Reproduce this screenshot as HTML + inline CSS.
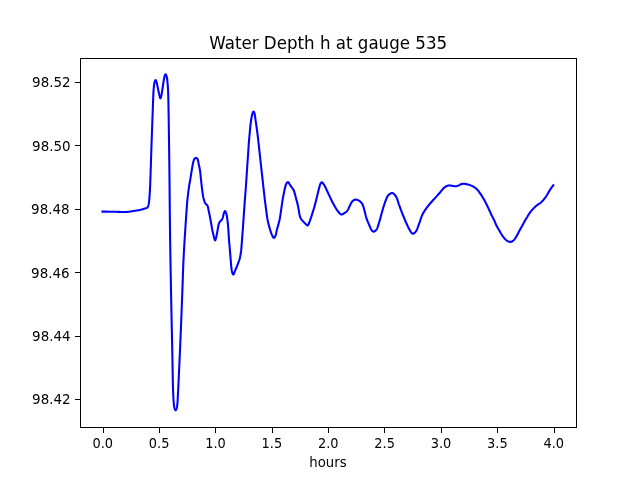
<!DOCTYPE html>
<html><head><meta charset="utf-8"><title>Water Depth h at gauge 535</title>
<style>
html,body{margin:0;padding:0;background:#fff;}
body{width:640px;height:480px;overflow:hidden;}
svg{display:block;will-change:transform;}
text{font-family:"DejaVu Sans","Liberation Sans",sans-serif;fill:#000;}
.tk{font-size:13.89px;}
.ti{font-size:17.5px;}
</style></head><body>
<svg width="640" height="480" viewBox="0 0 640 480">
<rect x="0" y="0" width="640" height="480" fill="#ffffff"/>
<path d="M102.5 211.6 L103.25 211.61 L103.99 211.62 L104.73 211.63 L105.46 211.64 L106.18 211.65 L106.9 211.66 L107.61 211.67 L108.31 211.68 L109.01 211.7 L109.7 211.71 L110.39 211.72 L111.06 211.73 L111.74 211.74 L112.4 211.75 L113.06 211.76 L113.71 211.78 L114.36 211.79 L115 211.8 L115.75 211.82 L116.5 211.83 L117.24 211.85 L117.98 211.87 L118.71 211.89 L119.44 211.91 L120.14 211.93 L120.84 211.95 L121.52 211.97 L122.17 211.98 L122.81 211.99 L123.42 212 L124 212 L124.72 211.99 L125.39 211.98 L126.03 211.95 L126.65 211.92 L127.26 211.88 L127.87 211.84 L128.5 211.8 L129.14 211.74 L129.76 211.66 L130.38 211.56 L131.01 211.45 L131.65 211.33 L132.31 211.22 L133 211.1 L133.63 211 L134.29 210.9 L134.98 210.8 L135.68 210.7 L136.39 210.59 L137.1 210.48 L137.81 210.36 L138.49 210.25 L139.14 210.13 L139.75 210 L140.41 209.85 L141.05 209.69 L141.67 209.52 L142.27 209.34 L142.86 209.16 L143.43 208.98 L144 208.8 L144.61 208.62 L145.24 208.45 L145.85 208.28 L146.43 208.09 L146.92 207.86 L147.3 207.6 L147.65 207.16 L147.95 206.57 L148.22 205.89 L148.43 205.18 L148.6 204.5 L148.73 203.89 L148.83 203.3 L148.92 202.69 L149.01 202.02 L149.1 201.25 L149.15 200.78 L149.21 200.26 L149.26 199.7 L149.31 199.11 L149.37 198.48 L149.42 197.82 L149.47 197.14 L149.53 196.43 L149.58 195.7 L149.63 194.95 L149.68 194.19 L149.73 193.42 L149.78 192.64 L149.83 191.86 L149.87 191.08 L149.92 190.29 L149.96 189.52 L150 188.75 L150.03 188.12 L150.06 187.49 L150.09 186.85 L150.12 186.21 L150.15 185.56 L150.18 184.9 L150.2 184.23 L150.23 183.56 L150.26 182.89 L150.28 182.21 L150.31 181.52 L150.33 180.83 L150.36 180.13 L150.38 179.43 L150.41 178.73 L150.43 178.02 L150.46 177.31 L150.48 176.59 L150.5 175.87 L150.53 175.15 L150.55 174.42 L150.58 173.69 L150.6 172.96 L150.62 172.22 L150.65 171.48 L150.67 170.74 L150.7 170 L150.72 169.35 L150.74 168.7 L150.77 168.05 L150.79 167.38 L150.81 166.72 L150.83 166.05 L150.85 165.37 L150.88 164.69 L150.9 164.01 L150.92 163.32 L150.94 162.63 L150.96 161.94 L150.99 161.24 L151.01 160.54 L151.03 159.84 L151.05 159.14 L151.07 158.44 L151.09 157.73 L151.12 157.02 L151.14 156.31 L151.16 155.6 L151.18 154.89 L151.2 154.18 L151.23 153.47 L151.25 152.76 L151.27 152.05 L151.29 151.34 L151.32 150.63 L151.34 149.92 L151.36 149.21 L151.38 148.5 L151.41 147.8 L151.43 147.09 L151.45 146.39 L151.48 145.7 L151.5 145 L151.52 144.3 L151.55 143.59 L151.57 142.88 L151.6 142.16 L151.62 141.43 L151.65 140.7 L151.68 139.96 L151.7 139.22 L151.73 138.47 L151.75 137.72 L151.78 136.98 L151.81 136.23 L151.84 135.48 L151.86 134.73 L151.89 133.98 L151.92 133.24 L151.94 132.49 L151.97 131.76 L152 131.02 L152.03 130.29 L152.05 129.57 L152.08 128.86 L152.1 128.15 L152.13 127.45 L152.15 126.76 L152.18 126.08 L152.2 125.41 L152.23 124.76 L152.25 124.11 L152.28 123.48 L152.3 122.86 L152.32 122.26 L152.34 121.67 L152.36 121.09 L152.38 120.54 L152.4 120 L152.43 119.22 L152.45 118.47 L152.48 117.75 L152.5 117.06 L152.53 116.4 L152.55 115.75 L152.57 115.11 L152.59 114.49 L152.61 113.87 L152.63 113.25 L152.66 112.62 L152.68 111.99 L152.7 111.35 L152.73 110.68 L152.75 110 L152.77 109.35 L152.8 108.69 L152.82 108.01 L152.85 107.33 L152.87 106.63 L152.9 105.92 L152.92 105.21 L152.95 104.51 L152.98 103.8 L153 103.1 L153.03 102.4 L153.06 101.72 L153.08 101.05 L153.11 100.4 L153.13 99.76 L153.15 99.15 L153.18 98.56 L153.2 98 L153.23 97.25 L153.26 96.53 L153.28 95.85 L153.31 95.19 L153.33 94.54 L153.36 93.91 L153.39 93.28 L153.42 92.64 L153.45 92 L153.49 91.3 L153.54 90.59 L153.59 89.89 L153.64 89.19 L153.7 88.5 L153.76 87.82 L153.83 87.15 L153.9 86.5 L153.98 85.84 L154.06 85.18 L154.15 84.53 L154.25 83.9 L154.35 83.29 L154.47 82.72 L154.6 82.2 L154.81 81.49 L155.06 80.78 L155.34 80.22 L155.6 80 L155.86 80.22 L156.12 80.77 L156.37 81.49 L156.6 82.2 L156.76 82.75 L156.91 83.34 L157.05 83.98 L157.18 84.65 L157.32 85.34 L157.45 86.05 L157.6 86.75 L157.73 87.34 L157.85 87.96 L157.98 88.6 L158.12 89.26 L158.25 89.92 L158.38 90.57 L158.52 91.22 L158.65 91.84 L158.78 92.44 L158.9 93 L159.06 93.7 L159.21 94.38 L159.36 95.04 L159.5 95.67 L159.65 96.24 L159.8 96.75 L160 97.43 L160.19 98.04 L160.4 98.3 L160.62 98.05 L160.86 97.43 L161.09 96.61 L161.3 95.8 L161.43 95.27 L161.55 94.68 L161.66 94.05 L161.77 93.38 L161.88 92.69 L161.98 91.98 L162.09 91.28 L162.19 90.58 L162.3 89.9 L162.4 89.28 L162.49 88.65 L162.59 88.01 L162.68 87.38 L162.78 86.74 L162.87 86.1 L162.96 85.47 L163.06 84.84 L163.15 84.22 L163.25 83.6 L163.35 82.95 L163.46 82.29 L163.56 81.63 L163.67 80.97 L163.77 80.32 L163.88 79.69 L163.98 79.09 L164.09 78.53 L164.2 78 L164.37 77.22 L164.53 76.49 L164.7 75.83 L164.9 75.3 L165.23 74.67 L165.6 74.35 L166 74.75 L166.35 75.5 L166.54 76.02 L166.71 76.62 L166.86 77.28 L167 78 L167.08 78.51 L167.16 79.08 L167.23 79.68 L167.3 80.3 L167.36 80.96 L167.43 81.62 L167.49 82.29 L167.54 82.95 L167.6 83.6 L167.65 84.21 L167.7 84.82 L167.76 85.44 L167.81 86.05 L167.85 86.68 L167.9 87.31 L167.94 87.94 L167.98 88.58 L168.02 89.24 L168.05 89.9 L168.08 90.53 L168.1 91.17 L168.13 91.82 L168.15 92.47 L168.17 93.12 L168.19 93.79 L168.21 94.46 L168.23 95.15 L168.24 95.84 L168.26 96.55 L168.28 97.27 L168.3 98 L168.32 98.6 L168.33 99.2 L168.34 99.8 L168.36 100.41 L168.37 101.02 L168.39 101.64 L168.4 102.26 L168.41 102.9 L168.43 103.54 L168.44 104.2 L168.45 104.86 L168.47 105.55 L168.48 106.24 L168.49 106.96 L168.51 107.69 L168.52 108.44 L168.54 109.21 L168.55 110 L168.56 110.54 L168.57 111.09 L168.58 111.66 L168.59 112.24 L168.6 112.84 L168.61 113.45 L168.62 114.07 L168.63 114.7 L168.64 115.34 L168.65 116 L168.66 116.66 L168.67 117.34 L168.68 118.02 L168.69 118.71 L168.7 119.41 L168.72 120.12 L168.73 120.83 L168.74 121.55 L168.75 122.27 L168.76 123 L168.77 123.74 L168.78 124.48 L168.79 125.22 L168.8 125.97 L168.81 126.71 L168.82 127.46 L168.83 128.22 L168.84 128.97 L168.86 129.72 L168.87 130.47 L168.88 131.23 L168.89 131.98 L168.9 132.73 L168.91 133.47 L168.92 134.22 L168.93 134.96 L168.94 135.69 L168.95 136.43 L168.96 137.15 L168.97 137.87 L168.98 138.59 L168.99 139.3 L169 140 L169.01 140.7 L169.02 141.39 L169.03 142.07 L169.04 142.75 L169.05 143.43 L169.06 144.11 L169.07 144.78 L169.08 145.45 L169.09 146.11 L169.1 146.78 L169.11 147.44 L169.11 148.1 L169.12 148.76 L169.13 149.42 L169.14 150.08 L169.15 150.74 L169.16 151.41 L169.17 152.07 L169.18 152.73 L169.19 153.4 L169.2 154.06 L169.21 154.73 L169.22 155.41 L169.22 156.08 L169.23 156.76 L169.24 157.44 L169.25 158.13 L169.26 158.82 L169.27 159.52 L169.28 160.22 L169.29 160.93 L169.3 161.64 L169.31 162.36 L169.32 163.09 L169.32 163.83 L169.33 164.57 L169.34 165.32 L169.35 166.08 L169.36 166.84 L169.37 167.62 L169.38 168.4 L169.39 169.2 L169.4 170 L169.41 170.58 L169.41 171.16 L169.42 171.74 L169.43 172.33 L169.43 172.93 L169.44 173.54 L169.45 174.14 L169.45 174.76 L169.46 175.37 L169.47 176 L169.47 176.63 L169.48 177.26 L169.49 177.9 L169.49 178.54 L169.5 179.18 L169.51 179.83 L169.51 180.49 L169.52 181.15 L169.52 181.81 L169.53 182.48 L169.54 183.15 L169.54 183.82 L169.55 184.5 L169.56 185.18 L169.56 185.87 L169.57 186.55 L169.58 187.24 L169.58 187.94 L169.59 188.64 L169.59 189.34 L169.6 190.04 L169.61 190.74 L169.61 191.45 L169.62 192.16 L169.63 192.88 L169.63 193.59 L169.64 194.31 L169.65 195.03 L169.65 195.75 L169.66 196.47 L169.67 197.2 L169.67 197.92 L169.68 198.65 L169.69 199.38 L169.69 200.11 L169.7 200.85 L169.71 201.58 L169.71 202.31 L169.72 203.05 L169.73 203.79 L169.73 204.52 L169.74 205.26 L169.75 206 L169.75 206.74 L169.76 207.48 L169.77 208.22 L169.77 208.96 L169.78 209.69 L169.79 210.43 L169.8 211.17 L169.8 211.91 L169.81 212.65 L169.82 213.39 L169.82 214.13 L169.83 214.86 L169.84 215.6 L169.85 216.33 L169.85 217.07 L169.86 217.8 L169.87 218.53 L169.88 219.26 L169.88 219.99 L169.89 220.72 L169.9 221.45 L169.91 222.17 L169.92 222.89 L169.92 223.62 L169.93 224.33 L169.94 225.05 L169.95 225.77 L169.96 226.48 L169.97 227.19 L169.97 227.89 L169.98 228.6 L169.99 229.3 L170 230 L170.01 230.7 L170.02 231.4 L170.03 232.09 L170.04 232.79 L170.04 233.49 L170.05 234.19 L170.06 234.88 L170.07 235.58 L170.08 236.28 L170.09 236.98 L170.1 237.67 L170.11 238.37 L170.12 239.07 L170.13 239.77 L170.14 240.47 L170.15 241.16 L170.16 241.86 L170.17 242.56 L170.18 243.26 L170.19 243.95 L170.2 244.65 L170.21 245.35 L170.23 246.05 L170.24 246.74 L170.25 247.44 L170.26 248.14 L170.27 248.84 L170.28 249.54 L170.29 250.23 L170.3 250.93 L170.31 251.63 L170.33 252.33 L170.34 253.02 L170.35 253.72 L170.36 254.42 L170.37 255.12 L170.38 255.81 L170.4 256.51 L170.41 257.21 L170.42 257.91 L170.43 258.6 L170.44 259.3 L170.45 260 L170.47 260.7 L170.48 261.4 L170.49 262.09 L170.5 262.79 L170.52 263.49 L170.53 264.19 L170.54 264.88 L170.55 265.58 L170.56 266.28 L170.58 266.98 L170.59 267.67 L170.6 268.37 L170.61 269.07 L170.63 269.77 L170.64 270.47 L170.65 271.16 L170.67 271.86 L170.68 272.56 L170.69 273.26 L170.7 273.95 L170.72 274.65 L170.73 275.35 L170.74 276.05 L170.75 276.74 L170.77 277.44 L170.78 278.14 L170.79 278.84 L170.81 279.54 L170.82 280.23 L170.83 280.93 L170.84 281.63 L170.86 282.33 L170.87 283.02 L170.88 283.72 L170.9 284.42 L170.91 285.12 L170.92 285.81 L170.94 286.51 L170.95 287.21 L170.96 287.91 L170.97 288.6 L170.99 289.3 L171 290 L171.01 290.7 L171.03 291.4 L171.04 292.1 L171.05 292.8 L171.07 293.51 L171.08 294.21 L171.09 294.92 L171.11 295.63 L171.12 296.34 L171.13 297.05 L171.15 297.76 L171.16 298.47 L171.18 299.18 L171.19 299.9 L171.2 300.61 L171.22 301.33 L171.23 302.04 L171.25 302.76 L171.26 303.48 L171.28 304.19 L171.29 304.91 L171.31 305.63 L171.32 306.35 L171.34 307.07 L171.35 307.79 L171.37 308.51 L171.38 309.23 L171.4 309.95 L171.41 310.67 L171.43 311.39 L171.44 312.11 L171.46 312.83 L171.47 313.55 L171.49 314.27 L171.5 314.98 L171.52 315.7 L171.53 316.42 L171.55 317.14 L171.56 317.86 L171.58 318.57 L171.59 319.29 L171.61 320.01 L171.62 320.72 L171.64 321.43 L171.65 322.15 L171.67 322.86 L171.68 323.57 L171.7 324.28 L171.72 324.99 L171.73 325.7 L171.75 326.41 L171.76 327.11 L171.78 327.82 L171.79 328.52 L171.81 329.22 L171.82 329.92 L171.84 330.62 L171.85 331.32 L171.87 332.01 L171.88 332.71 L171.9 333.4 L171.91 334.09 L171.93 334.78 L171.94 335.47 L171.96 336.15 L171.97 336.84 L171.99 337.52 L172 338.2 L172.01 338.87 L172.03 339.55 L172.04 340.22 L172.06 340.89 L172.07 341.56 L172.09 342.22 L172.1 342.89 L172.11 343.55 L172.13 344.2 L172.14 344.86 L172.16 345.51 L172.17 346.16 L172.18 346.81 L172.2 347.45 L172.21 348.09 L172.22 348.73 L172.24 349.37 L172.25 350 L172.27 350.76 L172.28 351.53 L172.3 352.3 L172.31 353.07 L172.33 353.85 L172.34 354.62 L172.36 355.4 L172.37 356.18 L172.38 356.96 L172.4 357.74 L172.41 358.52 L172.43 359.3 L172.44 360.08 L172.45 360.86 L172.47 361.64 L172.48 362.42 L172.5 363.2 L172.51 363.97 L172.52 364.75 L172.54 365.52 L172.55 366.29 L172.56 367.06 L172.58 367.82 L172.59 368.59 L172.6 369.35 L172.61 370.1 L172.63 370.85 L172.64 371.6 L172.65 372.34 L172.67 373.08 L172.68 373.81 L172.69 374.54 L172.71 375.27 L172.72 375.98 L172.73 376.69 L172.75 377.4 L172.76 378.1 L172.78 378.79 L172.79 379.47 L172.8 380.15 L172.82 380.82 L172.83 381.48 L172.85 382.13 L172.86 382.78 L172.88 383.41 L172.89 384.04 L172.9 384.66 L172.92 385.27 L172.94 385.86 L172.95 386.45 L172.97 387.03 L172.98 387.6 L173 388.15 L173.01 388.7 L173.03 389.23 L173.05 389.76 L173.07 390.27 L173.08 390.76 L173.1 391.25 L173.13 392.1 L173.16 392.92 L173.2 393.73 L173.23 394.52 L173.27 395.28 L173.3 396.03 L173.34 396.76 L173.37 397.47 L173.41 398.16 L173.45 398.82 L173.49 399.48 L173.53 400.11 L173.57 400.72 L173.62 401.31 L173.66 401.89 L173.71 402.44 L173.75 402.98 L173.8 403.5 L173.88 404.3 L173.96 405.05 L174.05 405.77 L174.14 406.45 L174.25 407.08 L174.37 407.66 L174.5 408.2 L174.72 408.89 L175 409.57 L175.31 410.09 L175.6 410.3 L175.89 410.09 L176.2 409.57 L176.48 408.89 L176.7 408.2 L176.83 407.66 L176.95 407.08 L177.06 406.45 L177.15 405.77 L177.24 405.05 L177.32 404.3 L177.4 403.5 L177.45 402.98 L177.49 402.44 L177.53 401.89 L177.57 401.31 L177.61 400.72 L177.65 400.11 L177.69 399.48 L177.72 398.82 L177.76 398.15 L177.79 397.47 L177.83 396.76 L177.86 396.03 L177.9 395.28 L177.94 394.52 L177.97 393.73 L178.01 392.92 L178.06 392.1 L178.1 391.25 L178.13 390.76 L178.15 390.26 L178.18 389.74 L178.21 389.2 L178.23 388.65 L178.26 388.09 L178.29 387.51 L178.32 386.92 L178.35 386.31 L178.38 385.7 L178.41 385.07 L178.44 384.42 L178.48 383.77 L178.51 383.11 L178.54 382.44 L178.57 381.75 L178.6 381.06 L178.64 380.36 L178.67 379.65 L178.7 378.93 L178.74 378.21 L178.77 377.48 L178.81 376.74 L178.84 376 L178.88 375.25 L178.91 374.5 L178.94 373.74 L178.98 372.98 L179.01 372.21 L179.05 371.44 L179.08 370.67 L179.12 369.9 L179.15 369.12 L179.19 368.35 L179.22 367.57 L179.26 366.8 L179.29 366.02 L179.33 365.25 L179.36 364.47 L179.4 363.7 L179.43 362.93 L179.47 362.16 L179.5 361.4 L179.53 360.64 L179.57 359.88 L179.6 359.13 L179.63 358.38 L179.67 357.64 L179.7 356.91 L179.73 356.18 L179.76 355.46 L179.79 354.75 L179.82 354.04 L179.85 353.34 L179.88 352.65 L179.91 351.98 L179.94 351.31 L179.97 350.65 L180 350 L180.03 349.25 L180.06 348.51 L180.1 347.77 L180.13 347.03 L180.16 346.3 L180.19 345.57 L180.22 344.85 L180.25 344.13 L180.28 343.42 L180.31 342.71 L180.34 342 L180.37 341.29 L180.4 340.59 L180.43 339.89 L180.46 339.19 L180.49 338.5 L180.52 337.81 L180.55 337.11 L180.58 336.43 L180.61 335.74 L180.64 335.05 L180.67 334.37 L180.69 333.69 L180.72 333 L180.75 332.32 L180.78 331.64 L180.81 330.96 L180.83 330.28 L180.86 329.6 L180.89 328.92 L180.92 328.24 L180.95 327.56 L180.97 326.88 L181 326.2 L181.03 325.52 L181.06 324.83 L181.08 324.15 L181.11 323.46 L181.14 322.77 L181.17 322.08 L181.19 321.39 L181.22 320.7 L181.25 320 L181.28 319.3 L181.31 318.6 L181.33 317.91 L181.36 317.21 L181.39 316.51 L181.42 315.81 L181.44 315.12 L181.47 314.42 L181.5 313.72 L181.53 313.02 L181.55 312.33 L181.58 311.63 L181.61 310.93 L181.63 310.23 L181.66 309.54 L181.69 308.84 L181.71 308.14 L181.74 307.44 L181.77 306.74 L181.79 306.05 L181.82 305.35 L181.85 304.65 L181.87 303.95 L181.9 303.26 L181.93 302.56 L181.95 301.86 L181.98 301.16 L182.01 300.47 L182.03 299.77 L182.06 299.07 L182.09 298.37 L182.11 297.67 L182.14 296.98 L182.16 296.28 L182.19 295.58 L182.22 294.88 L182.24 294.19 L182.27 293.49 L182.3 292.79 L182.32 292.09 L182.35 291.4 L182.37 290.7 L182.4 290 L182.43 289.3 L182.45 288.6 L182.48 287.91 L182.5 287.21 L182.53 286.51 L182.55 285.81 L182.58 285.12 L182.6 284.42 L182.62 283.72 L182.65 283.02 L182.67 282.33 L182.7 281.63 L182.72 280.93 L182.74 280.23 L182.77 279.53 L182.79 278.84 L182.81 278.14 L182.84 277.44 L182.86 276.74 L182.89 276.05 L182.91 275.35 L182.93 274.65 L182.96 273.95 L182.98 273.25 L183.01 272.56 L183.03 271.86 L183.06 271.16 L183.08 270.46 L183.11 269.77 L183.13 269.07 L183.16 268.37 L183.18 267.67 L183.21 266.98 L183.24 266.28 L183.27 265.58 L183.29 264.88 L183.32 264.19 L183.35 263.49 L183.38 262.79 L183.41 262.09 L183.44 261.4 L183.47 260.7 L183.5 260 L183.53 259.3 L183.56 258.6 L183.6 257.89 L183.63 257.18 L183.67 256.47 L183.7 255.76 L183.74 255.05 L183.78 254.33 L183.82 253.61 L183.85 252.89 L183.89 252.17 L183.93 251.45 L183.97 250.73 L184.01 250.01 L184.06 249.29 L184.1 248.56 L184.14 247.84 L184.18 247.12 L184.22 246.4 L184.27 245.68 L184.31 244.97 L184.35 244.25 L184.4 243.54 L184.44 242.82 L184.48 242.11 L184.53 241.41 L184.57 240.7 L184.62 240 L184.66 239.3 L184.7 238.61 L184.75 237.92 L184.79 237.23 L184.83 236.55 L184.88 235.87 L184.92 235.2 L184.96 234.53 L185 233.86 L185.05 233.2 L185.09 232.55 L185.13 231.9 L185.17 231.26 L185.21 230.63 L185.25 230 L185.3 229.24 L185.35 228.48 L185.4 227.72 L185.45 226.95 L185.5 226.19 L185.55 225.42 L185.6 224.66 L185.65 223.9 L185.7 223.14 L185.75 222.39 L185.8 221.64 L185.85 220.9 L185.9 220.16 L185.95 219.44 L186 218.72 L186.04 218.01 L186.09 217.3 L186.14 216.62 L186.19 215.94 L186.23 215.27 L186.28 214.62 L186.32 213.98 L186.36 213.36 L186.41 212.76 L186.45 212.17 L186.49 211.6 L186.53 211.04 L186.56 210.51 L186.6 210 L186.65 209.24 L186.7 208.53 L186.75 207.85 L186.79 207.2 L186.83 206.58 L186.87 205.97 L186.92 205.38 L186.96 204.79 L187 204.2 L187.05 203.61 L187.1 203 L187.16 202.29 L187.23 201.59 L187.3 200.89 L187.37 200.2 L187.44 199.51 L187.52 198.82 L187.6 198.13 L187.67 197.44 L187.75 196.75 L187.83 196.06 L187.91 195.36 L187.99 194.67 L188.07 193.97 L188.15 193.28 L188.24 192.58 L188.32 191.89 L188.41 191.19 L188.5 190.5 L188.58 189.87 L188.67 189.24 L188.75 188.61 L188.84 187.98 L188.93 187.35 L189.02 186.72 L189.11 186.09 L189.21 185.47 L189.3 184.86 L189.4 184.25 L189.52 183.56 L189.64 182.89 L189.76 182.23 L189.89 181.57 L190.01 180.91 L190.14 180.23 L190.27 179.53 L190.4 178.8 L190.51 178.18 L190.61 177.53 L190.72 176.85 L190.83 176.17 L190.94 175.47 L191.04 174.76 L191.15 174.05 L191.26 173.34 L191.37 172.64 L191.48 171.94 L191.59 171.26 L191.7 170.6 L191.82 169.88 L191.93 169.16 L192.05 168.44 L192.17 167.73 L192.28 167.03 L192.4 166.33 L192.52 165.66 L192.64 165 L192.77 164.36 L192.9 163.75 L193.05 163.06 L193.21 162.38 L193.37 161.7 L193.54 161.06 L193.72 160.47 L193.9 159.94 L194.1 159.5 L194.4 158.96 L194.74 158.5 L195.1 158.2 L195.59 157.99 L196.1 157.9 L196.64 158.03 L197.1 158.3 L197.42 158.78 L197.7 159.5 L197.84 159.93 L197.98 160.44 L198.12 161.03 L198.25 161.67 L198.39 162.34 L198.53 163.03 L198.66 163.72 L198.8 164.4 L198.93 165.04 L199.07 165.69 L199.21 166.36 L199.35 167.04 L199.49 167.73 L199.63 168.43 L199.76 169.13 L199.88 169.84 L200 170.55 L200.1 171.25 L200.19 171.92 L200.27 172.6 L200.35 173.29 L200.43 173.98 L200.5 174.68 L200.57 175.37 L200.63 176.06 L200.7 176.74 L200.77 177.41 L200.83 178.06 L200.9 178.7 L200.98 179.43 L201.05 180.14 L201.13 180.83 L201.2 181.5 L201.27 182.18 L201.35 182.86 L201.42 183.55 L201.5 184.25 L201.58 184.93 L201.66 185.61 L201.73 186.31 L201.82 187 L201.9 187.7 L201.98 188.4 L202.07 189.1 L202.16 189.8 L202.25 190.5 L202.33 191.13 L202.42 191.78 L202.51 192.44 L202.6 193.1 L202.7 193.75 L202.79 194.39 L202.89 195.02 L202.99 195.63 L203.09 196.21 L203.2 196.75 L203.34 197.39 L203.48 197.99 L203.63 198.57 L203.78 199.13 L203.94 199.67 L204.1 200.2 L204.31 200.9 L204.52 201.58 L204.74 202.22 L205 202.8 L205.38 203.39 L205.82 203.93 L206.25 204.4 L206.75 204.84 L207.2 205.3 L207.51 205.85 L207.79 206.52 L208 207.2 L208.12 207.72 L208.21 208.24 L208.29 208.79 L208.4 209.4 L208.51 209.96 L208.65 210.58 L208.8 211.24 L208.95 211.93 L209.11 212.63 L209.26 213.32 L209.4 214 L209.53 214.67 L209.66 215.34 L209.79 216.02 L209.92 216.69 L210.05 217.37 L210.17 218.06 L210.3 218.75 L210.42 219.39 L210.54 220.05 L210.66 220.7 L210.78 221.37 L210.9 222.03 L211.02 222.69 L211.14 223.35 L211.25 224 L211.36 224.63 L211.46 225.26 L211.56 225.88 L211.66 226.5 L211.77 227.12 L211.87 227.75 L211.98 228.37 L212.1 229 L212.23 229.66 L212.38 230.32 L212.53 230.99 L212.68 231.66 L212.84 232.33 L213 232.98 L213.15 233.63 L213.3 234.25 L213.47 234.97 L213.63 235.69 L213.8 236.4 L213.96 237.08 L214.13 237.72 L214.3 238.3 L214.5 238.97 L214.7 239.65 L214.9 240.19 L215.1 240.4 L215.34 240.12 L215.58 239.48 L215.8 238.8 L215.96 238.26 L216.11 237.68 L216.25 237.07 L216.4 236.4 L216.53 235.8 L216.67 235.14 L216.81 234.44 L216.95 233.71 L217.09 232.98 L217.23 232.27 L217.35 231.6 L217.47 230.94 L217.58 230.29 L217.68 229.65 L217.79 229.02 L217.89 228.41 L218 227.8 L218.11 227.16 L218.22 226.53 L218.33 225.91 L218.46 225.3 L218.6 224.7 L218.77 224.1 L218.98 223.49 L219.21 222.89 L219.45 222.35 L219.7 221.9 L220.02 221.48 L220.36 221.13 L220.7 220.8 L221.16 220.42 L221.6 220 L221.87 219.61 L222.14 219.15 L222.38 218.64 L222.6 218.1 L222.78 217.54 L222.94 216.92 L223.09 216.28 L223.24 215.63 L223.4 215 L223.57 214.39 L223.74 213.75 L223.92 213.13 L224.11 212.57 L224.3 212.1 L224.64 211.41 L225 211.05 L225.27 211.27 L225.55 211.77 L225.8 212.3 L226.02 212.83 L226.22 213.4 L226.4 214 L226.54 214.53 L226.66 215.08 L226.78 215.67 L226.9 216.3 L226.99 216.83 L227.08 217.41 L227.17 218.01 L227.25 218.64 L227.34 219.28 L227.42 219.94 L227.5 220.6 L227.57 221.2 L227.64 221.8 L227.71 222.41 L227.77 223.03 L227.84 223.66 L227.9 224.32 L227.97 225.01 L228.03 225.73 L228.1 226.5 L228.15 227.05 L228.19 227.63 L228.24 228.25 L228.29 228.89 L228.33 229.56 L228.38 230.25 L228.43 230.96 L228.48 231.69 L228.52 232.43 L228.57 233.17 L228.62 233.93 L228.67 234.68 L228.71 235.43 L228.76 236.18 L228.81 236.92 L228.86 237.65 L228.91 238.36 L228.96 239.06 L229 239.73 L229.05 240.38 L229.1 241 L229.16 241.76 L229.22 242.51 L229.29 243.25 L229.35 243.98 L229.42 244.69 L229.48 245.39 L229.55 246.08 L229.61 246.75 L229.67 247.42 L229.73 248.08 L229.79 248.73 L229.85 249.37 L229.9 250 L229.96 250.74 L230.02 251.46 L230.08 252.16 L230.13 252.85 L230.19 253.53 L230.24 254.21 L230.29 254.88 L230.35 255.56 L230.4 256.25 L230.46 256.94 L230.51 257.64 L230.56 258.33 L230.62 259.03 L230.67 259.72 L230.73 260.42 L230.78 261.11 L230.84 261.81 L230.9 262.5 L230.96 263.2 L231.02 263.92 L231.08 264.65 L231.14 265.38 L231.21 266.09 L231.28 266.8 L231.35 267.48 L231.42 268.13 L231.5 268.75 L231.6 269.43 L231.71 270.1 L231.82 270.74 L231.94 271.34 L232.07 271.9 L232.2 272.4 L232.38 273.03 L232.58 273.58 L232.8 274 L233.09 274.33 L233.4 274.5 L233.72 274.18 L234 273.6 L234.2 273.1 L234.39 272.53 L234.6 271.9 L234.82 271.33 L235.07 270.71 L235.35 270.06 L235.63 269.4 L235.9 268.75 L236.17 268.12 L236.45 267.49 L236.72 266.86 L236.99 266.23 L237.25 265.6 L237.49 264.98 L237.72 264.36 L237.95 263.74 L238.18 263.12 L238.4 262.5 L238.63 261.88 L238.86 261.26 L239.09 260.65 L239.31 260.02 L239.5 259.4 L239.67 258.78 L239.83 258.15 L239.98 257.52 L240.12 256.88 L240.25 256.25 L240.37 255.62 L240.49 254.99 L240.6 254.36 L240.7 253.73 L240.8 253.1 L240.89 252.49 L240.97 251.9 L241.05 251.3 L241.13 250.67 L241.2 250 L241.26 249.42 L241.32 248.83 L241.37 248.21 L241.42 247.56 L241.48 246.9 L241.53 246.21 L241.59 245.49 L241.65 244.75 L241.7 244.18 L241.74 243.58 L241.79 242.96 L241.84 242.31 L241.89 241.65 L241.94 240.97 L241.99 240.29 L242.04 239.59 L242.09 238.89 L242.15 238.18 L242.2 237.48 L242.25 236.78 L242.3 236.09 L242.35 235.41 L242.4 234.75 L242.45 234.07 L242.5 233.39 L242.55 232.71 L242.61 232.02 L242.66 231.34 L242.71 230.66 L242.76 229.99 L242.81 229.31 L242.86 228.64 L242.91 227.98 L242.96 227.32 L243.01 226.67 L243.05 226.03 L243.1 225.4 L243.15 224.7 L243.2 224.01 L243.24 223.34 L243.29 222.68 L243.33 222.02 L243.37 221.37 L243.42 220.71 L243.46 220.05 L243.51 219.38 L243.55 218.7 L243.6 218 L243.64 217.37 L243.69 216.73 L243.73 216.09 L243.78 215.43 L243.82 214.78 L243.87 214.11 L243.92 213.44 L243.97 212.77 L244.01 212.1 L244.06 211.43 L244.11 210.75 L244.16 210.08 L244.2 209.41 L244.25 208.75 L244.3 208.08 L244.34 207.41 L244.39 206.74 L244.43 206.07 L244.48 205.4 L244.53 204.73 L244.57 204.06 L244.62 203.39 L244.66 202.72 L244.71 202.05 L244.76 201.38 L244.8 200.72 L244.85 200.06 L244.9 199.4 L244.95 198.72 L245 198.05 L245.06 197.38 L245.11 196.72 L245.17 196.06 L245.22 195.4 L245.28 194.74 L245.33 194.07 L245.39 193.41 L245.44 192.74 L245.49 192.07 L245.55 191.39 L245.6 190.7 L245.65 190.06 L245.7 189.4 L245.74 188.75 L245.79 188.09 L245.84 187.42 L245.89 186.75 L245.93 186.08 L245.98 185.41 L246.03 184.74 L246.07 184.07 L246.12 183.4 L246.17 182.73 L246.21 182.07 L246.26 181.41 L246.3 180.75 L246.35 180.07 L246.39 179.4 L246.43 178.72 L246.48 178.05 L246.52 177.38 L246.56 176.7 L246.6 176.04 L246.65 175.37 L246.69 174.7 L246.73 174.04 L246.77 173.38 L246.81 172.72 L246.86 172.06 L246.9 171.4 L246.95 170.72 L246.99 170.05 L247.04 169.38 L247.08 168.72 L247.13 168.06 L247.17 167.4 L247.22 166.74 L247.26 166.07 L247.31 165.41 L247.36 164.74 L247.4 164.07 L247.45 163.39 L247.5 162.7 L247.55 162.06 L247.59 161.4 L247.64 160.75 L247.68 160.09 L247.73 159.42 L247.78 158.75 L247.83 158.08 L247.88 157.41 L247.92 156.74 L247.97 156.07 L248.02 155.4 L248.06 154.73 L248.11 154.07 L248.16 153.41 L248.2 152.75 L248.24 152.07 L248.29 151.4 L248.33 150.72 L248.37 150.05 L248.41 149.38 L248.45 148.7 L248.49 148.04 L248.54 147.37 L248.58 146.7 L248.62 146.04 L248.66 145.38 L248.71 144.72 L248.75 144.06 L248.8 143.4 L248.85 142.72 L248.9 142.05 L248.96 141.38 L249.01 140.72 L249.07 140.06 L249.13 139.4 L249.18 138.74 L249.24 138.07 L249.3 137.41 L249.36 136.74 L249.43 136.07 L249.49 135.39 L249.55 134.7 L249.61 134.05 L249.67 133.4 L249.73 132.73 L249.78 132.06 L249.84 131.38 L249.91 130.7 L249.97 130.02 L250.03 129.34 L250.09 128.66 L250.16 127.98 L250.22 127.32 L250.29 126.66 L250.36 126.01 L250.43 125.37 L250.5 124.75 L250.59 124.02 L250.68 123.29 L250.77 122.56 L250.87 121.84 L250.97 121.13 L251.07 120.43 L251.17 119.75 L251.27 119.09 L251.38 118.45 L251.49 117.84 L251.6 117.25 L251.75 116.48 L251.91 115.74 L252.07 115.02 L252.24 114.36 L252.41 113.75 L252.6 113.2 L252.88 112.45 L253.19 111.79 L253.5 111.5 L253.76 111.68 L254.03 112.14 L254.28 112.76 L254.5 113.4 L254.62 113.85 L254.74 114.37 L254.85 114.95 L254.95 115.58 L255.05 116.24 L255.14 116.94 L255.23 117.65 L255.32 118.36 L255.41 119.06 L255.51 119.75 L255.6 120.4 L255.7 121.09 L255.81 121.77 L255.91 122.45 L256.01 123.13 L256.11 123.81 L256.21 124.49 L256.31 125.18 L256.4 125.86 L256.5 126.55 L256.6 127.25 L256.69 127.91 L256.79 128.58 L256.88 129.24 L256.97 129.91 L257.06 130.58 L257.15 131.26 L257.24 131.93 L257.33 132.62 L257.42 133.31 L257.51 134 L257.6 134.7 L257.68 135.35 L257.76 136 L257.84 136.65 L257.91 137.32 L257.99 137.98 L258.07 138.65 L258.15 139.32 L258.22 140 L258.3 140.68 L258.37 141.36 L258.45 142.04 L258.52 142.72 L258.6 143.4 L258.67 144.06 L258.74 144.72 L258.82 145.38 L258.89 146.04 L258.96 146.7 L259.03 147.37 L259.1 148.04 L259.17 148.7 L259.24 149.38 L259.31 150.05 L259.38 150.72 L259.45 151.4 L259.53 152.07 L259.6 152.75 L259.67 153.41 L259.74 154.07 L259.82 154.73 L259.89 155.4 L259.96 156.07 L260.04 156.74 L260.11 157.41 L260.19 158.08 L260.26 158.75 L260.34 159.42 L260.41 160.09 L260.48 160.75 L260.56 161.4 L260.63 162.06 L260.7 162.7 L260.78 163.39 L260.85 164.07 L260.92 164.74 L261 165.41 L261.07 166.07 L261.14 166.74 L261.21 167.4 L261.28 168.06 L261.36 168.72 L261.43 169.38 L261.5 170.05 L261.58 170.72 L261.65 171.4 L261.72 172.06 L261.8 172.72 L261.87 173.38 L261.94 174.04 L262.02 174.7 L262.09 175.37 L262.17 176.04 L262.25 176.7 L262.32 177.38 L262.4 178.05 L262.47 178.72 L262.55 179.4 L262.62 180.07 L262.7 180.75 L262.77 181.41 L262.85 182.07 L262.92 182.73 L262.99 183.4 L263.07 184.07 L263.14 184.74 L263.21 185.41 L263.29 186.08 L263.36 186.75 L263.44 187.42 L263.51 188.09 L263.58 188.75 L263.65 189.4 L263.73 190.06 L263.8 190.7 L263.88 191.39 L263.95 192.07 L264.03 192.74 L264.11 193.41 L264.18 194.07 L264.26 194.74 L264.33 195.4 L264.41 196.06 L264.48 196.72 L264.56 197.38 L264.64 198.05 L264.72 198.72 L264.8 199.4 L264.88 200.06 L264.96 200.72 L265.05 201.39 L265.13 202.05 L265.21 202.72 L265.3 203.39 L265.39 204.07 L265.47 204.74 L265.56 205.41 L265.65 206.08 L265.74 206.75 L265.83 207.42 L265.91 208.09 L266 208.75 L266.09 209.45 L266.18 210.17 L266.27 210.89 L266.37 211.62 L266.46 212.35 L266.55 213.08 L266.64 213.79 L266.73 214.5 L266.83 215.19 L266.92 215.86 L267.01 216.5 L267.11 217.12 L267.2 217.7 L267.32 218.42 L267.45 219.1 L267.57 219.74 L267.69 220.36 L267.82 220.98 L267.96 221.6 L268.1 222.25 L268.24 222.87 L268.39 223.49 L268.55 224.11 L268.71 224.74 L268.88 225.37 L269.05 226 L269.23 226.62 L269.4 227.25 L269.58 227.88 L269.75 228.52 L269.93 229.16 L270.12 229.8 L270.31 230.44 L270.5 231.06 L270.7 231.67 L270.9 232.25 L271.15 232.93 L271.43 233.62 L271.71 234.29 L271.98 234.92 L272.25 235.5 L272.5 236 L272.78 236.55 L273.03 237.03 L273.3 237.4 L273.59 237.73 L273.9 237.9 L274.25 237.7 L274.6 237.3 L274.86 236.95 L275.12 236.5 L275.37 235.98 L275.6 235.4 L275.76 234.92 L275.91 234.38 L276.05 233.78 L276.18 233.14 L276.32 232.47 L276.46 231.78 L276.6 231.09 L276.74 230.41 L276.9 229.75 L277.06 229.13 L277.23 228.51 L277.41 227.88 L277.59 227.25 L277.78 226.61 L277.96 225.98 L278.14 225.35 L278.32 224.72 L278.49 224.11 L278.65 223.5 L278.82 222.82 L278.99 222.15 L279.16 221.5 L279.32 220.85 L279.48 220.2 L279.63 219.54 L279.77 218.88 L279.9 218.2 L280.02 217.55 L280.13 216.89 L280.23 216.23 L280.33 215.56 L280.43 214.88 L280.52 214.21 L280.62 213.55 L280.71 212.89 L280.8 212.25 L280.89 211.61 L280.98 210.98 L281.06 210.37 L281.15 209.76 L281.23 209.14 L281.32 208.52 L281.4 207.87 L281.5 207.2 L281.59 206.59 L281.68 205.95 L281.77 205.3 L281.87 204.64 L281.97 203.96 L282.07 203.28 L282.17 202.6 L282.28 201.91 L282.38 201.23 L282.49 200.56 L282.6 199.9 L282.71 199.26 L282.82 198.62 L282.94 197.98 L283.05 197.34 L283.17 196.71 L283.29 196.07 L283.41 195.44 L283.54 194.82 L283.66 194.21 L283.78 193.6 L283.9 193 L284.03 192.34 L284.16 191.69 L284.29 191.04 L284.42 190.39 L284.55 189.76 L284.68 189.14 L284.82 188.54 L284.96 187.96 L285.1 187.4 L285.28 186.75 L285.46 186.1 L285.65 185.48 L285.84 184.9 L286.04 184.36 L286.25 183.9 L286.54 183.33 L286.86 182.82 L287.2 182.5 L287.65 182.29 L288.1 182.2 L288.42 182.33 L288.7 182.6 L289 183.1 L289.3 183.7 L289.55 184.13 L289.82 184.56 L290.1 185 L290.42 185.47 L290.77 185.94 L291.1 186.4 L291.4 186.84 L291.7 187.27 L292 187.7 L292.3 188.11 L292.61 188.5 L292.9 188.9 L293.27 189.44 L293.6 190 L293.82 190.5 L294.01 191.04 L294.2 191.6 L294.4 192.22 L294.59 192.86 L294.8 193.6 L294.94 194.11 L295.09 194.69 L295.26 195.31 L295.42 195.97 L295.59 196.64 L295.77 197.32 L295.94 197.97 L296.1 198.6 L296.28 199.25 L296.45 199.88 L296.63 200.52 L296.81 201.14 L296.98 201.76 L297.14 202.38 L297.3 203 L297.47 203.68 L297.63 204.35 L297.78 205.03 L297.93 205.69 L298.07 206.35 L298.2 207 L298.31 207.6 L298.41 208.18 L298.51 208.76 L298.61 209.34 L298.7 209.92 L298.8 210.5 L298.9 211.09 L298.99 211.67 L299.09 212.26 L299.19 212.84 L299.29 213.43 L299.4 214 L299.54 214.67 L299.68 215.35 L299.84 216.02 L300.01 216.66 L300.2 217.25 L300.44 217.83 L300.73 218.36 L301.05 218.88 L301.4 219.4 L301.77 219.9 L302.2 220.41 L302.67 220.92 L303.14 221.42 L303.6 221.9 L304.05 222.38 L304.53 222.88 L305 223.36 L305.43 223.78 L305.8 224.1 L306.16 224.36 L306.5 224.6 L307 225.14 L307.5 225.5 L307.84 225.3 L308.18 224.83 L308.5 224.3 L308.76 223.82 L309 223.27 L309.24 222.64 L309.48 221.97 L309.75 221.25 L309.93 220.75 L310.13 220.21 L310.33 219.64 L310.54 219.03 L310.75 218.4 L310.96 217.75 L311.18 217.09 L311.4 216.41 L311.61 215.74 L311.83 215.07 L312.04 214.4 L312.25 213.75 L312.45 213.12 L312.65 212.48 L312.86 211.83 L313.07 211.18 L313.27 210.52 L313.48 209.86 L313.68 209.21 L313.88 208.55 L314.08 207.9 L314.27 207.26 L314.45 206.63 L314.63 206.01 L314.8 205.4 L314.98 204.74 L315.15 204.09 L315.32 203.45 L315.48 202.82 L315.64 202.2 L315.79 201.58 L315.94 200.96 L316.09 200.34 L316.25 199.72 L316.4 199.1 L316.55 198.48 L316.7 197.86 L316.85 197.24 L317 196.62 L317.15 196 L317.3 195.38 L317.45 194.76 L317.6 194.14 L317.75 193.52 L317.9 192.9 L318.06 192.26 L318.22 191.6 L318.38 190.93 L318.55 190.25 L318.71 189.58 L318.88 188.93 L319.04 188.29 L319.2 187.69 L319.35 187.12 L319.5 186.6 L319.69 185.95 L319.86 185.33 L320.03 184.76 L320.21 184.24 L320.4 183.8 L320.77 183.15 L321.2 182.7 L321.64 182.46 L322.1 182.35 L322.47 182.57 L322.84 183.07 L323.2 183.6 L323.52 184.02 L323.84 184.46 L324.16 184.95 L324.5 185.5 L324.76 185.95 L325.02 186.46 L325.3 187.01 L325.58 187.61 L325.86 188.22 L326.15 188.85 L326.44 189.48 L326.72 190.1 L327 190.7 L327.28 191.29 L327.56 191.87 L327.83 192.46 L328.11 193.05 L328.39 193.64 L328.67 194.23 L328.94 194.82 L329.22 195.41 L329.5 196 L329.78 196.59 L330.05 197.18 L330.32 197.78 L330.6 198.37 L330.87 198.96 L331.15 199.56 L331.43 200.14 L331.71 200.72 L332 201.3 L332.33 201.93 L332.67 202.57 L333.02 203.21 L333.36 203.84 L333.71 204.46 L334.05 205.06 L334.39 205.65 L334.7 206.2 L335.02 206.76 L335.31 207.3 L335.6 207.81 L335.89 208.32 L336.19 208.81 L336.5 209.3 L336.88 209.87 L337.28 210.43 L337.69 210.98 L338.1 211.51 L338.5 212 L338.93 212.51 L339.35 213 L339.78 213.45 L340.2 213.8 L340.63 214.12 L341.06 214.39 L341.5 214.5 L341.95 214.42 L342.42 214.22 L342.9 214 L343.35 213.78 L343.82 213.5 L344.29 213.21 L344.75 212.9 L345.23 212.58 L345.72 212.24 L346.18 211.88 L346.6 211.5 L346.96 211.11 L347.29 210.7 L347.6 210.26 L347.9 209.8 L348.21 209.23 L348.51 208.61 L348.79 207.97 L349.1 207.3 L349.35 206.76 L349.61 206.18 L349.88 205.59 L350.15 205.01 L350.42 204.44 L350.7 203.9 L350.99 203.35 L351.29 202.81 L351.59 202.3 L351.91 201.82 L352.25 201.4 L352.67 200.97 L353.13 200.57 L353.61 200.23 L354.1 200 L354.71 199.81 L355.34 199.66 L356 199.6 L356.61 199.68 L357.25 199.87 L357.89 200.13 L358.5 200.4 L359.09 200.72 L359.66 201.11 L360.2 201.55 L360.7 202 L361.13 202.43 L361.54 202.89 L361.91 203.37 L362.25 203.9 L362.53 204.44 L362.79 205.03 L363.04 205.66 L363.27 206.32 L363.5 207 L363.69 207.6 L363.88 208.23 L364.05 208.89 L364.23 209.56 L364.4 210.24 L364.58 210.92 L364.75 211.6 L364.91 212.22 L365.06 212.85 L365.21 213.5 L365.37 214.14 L365.52 214.78 L365.68 215.4 L365.84 216.01 L366 216.6 L366.19 217.24 L366.38 217.85 L366.58 218.44 L366.79 219.03 L367.01 219.64 L367.25 220.3 L367.46 220.85 L367.68 221.43 L367.93 222.03 L368.19 222.65 L368.45 223.28 L368.72 223.91 L368.99 224.53 L369.25 225.13 L369.51 225.71 L369.75 226.25 L370.05 226.95 L370.32 227.64 L370.59 228.31 L370.87 228.94 L371.17 229.51 L371.5 230 L371.96 230.57 L372.48 231.12 L373.03 231.54 L373.6 231.7 L374.08 231.6 L374.61 231.33 L375.15 230.93 L375.69 230.45 L376.18 229.93 L376.6 229.4 L376.88 228.98 L377.14 228.49 L377.38 227.94 L377.61 227.35 L377.83 226.71 L378.04 226.04 L378.25 225.35 L378.45 224.64 L378.66 223.93 L378.88 223.21 L379.1 222.5 L379.29 221.91 L379.47 221.31 L379.65 220.68 L379.84 220.04 L380.02 219.39 L380.21 218.72 L380.39 218.04 L380.57 217.36 L380.76 216.67 L380.94 215.98 L381.13 215.29 L381.31 214.6 L381.5 213.91 L381.68 213.23 L381.87 212.56 L382.06 211.9 L382.25 211.25 L382.45 210.56 L382.66 209.86 L382.86 209.17 L383.06 208.47 L383.26 207.77 L383.47 207.07 L383.67 206.38 L383.88 205.7 L384.09 205.02 L384.3 204.36 L384.51 203.7 L384.73 203.07 L384.95 202.44 L385.17 201.84 L385.4 201.25 L385.68 200.54 L385.96 199.81 L386.24 199.09 L386.53 198.38 L386.83 197.69 L387.13 197.04 L387.45 196.43 L387.78 195.88 L388.13 195.4 L388.5 195 L388.96 194.6 L389.47 194.2 L390.02 193.82 L390.59 193.49 L391.16 193.23 L391.72 193.06 L392.25 193 L392.75 193.09 L393.25 193.34 L393.76 193.72 L394.25 194.19 L394.73 194.74 L395.19 195.33 L395.61 195.92 L396 196.5 L396.29 196.98 L396.56 197.52 L396.81 198.1 L397.05 198.71 L397.29 199.36 L397.51 200.04 L397.73 200.74 L397.95 201.45 L398.17 202.17 L398.39 202.89 L398.62 203.6 L398.85 204.31 L399.1 205 L399.32 205.6 L399.55 206.22 L399.78 206.84 L400.01 207.46 L400.25 208.09 L400.49 208.72 L400.72 209.36 L400.96 210 L401.2 210.63 L401.45 211.27 L401.69 211.9 L401.93 212.53 L402.17 213.16 L402.42 213.78 L402.66 214.39 L402.9 215 L403.16 215.65 L403.42 216.3 L403.69 216.95 L403.95 217.59 L404.21 218.24 L404.48 218.88 L404.74 219.52 L405.01 220.15 L405.28 220.77 L405.54 221.39 L405.81 222 L406.07 222.59 L406.34 223.18 L406.6 223.75 L406.91 224.43 L407.22 225.1 L407.53 225.77 L407.83 226.43 L408.14 227.08 L408.45 227.71 L408.76 228.32 L409.08 228.9 L409.41 229.47 L409.75 230 L410.17 230.66 L410.6 231.38 L411.05 232.08 L411.5 232.73 L411.96 233.26 L412.43 233.62 L412.9 233.75 L413.41 233.64 L413.95 233.35 L414.5 232.91 L415.03 232.39 L415.54 231.82 L416 231.25 L416.3 230.82 L416.59 230.33 L416.86 229.78 L417.13 229.18 L417.38 228.55 L417.63 227.89 L417.88 227.2 L418.12 226.5 L418.36 225.8 L418.61 225.1 L418.85 224.41 L419.1 223.75 L419.33 223.14 L419.55 222.52 L419.77 221.89 L419.98 221.25 L420.2 220.6 L420.41 219.95 L420.63 219.3 L420.84 218.66 L421.06 218.02 L421.29 217.38 L421.52 216.76 L421.75 216.16 L422 215.57 L422.25 215 L422.55 214.38 L422.85 213.78 L423.17 213.19 L423.5 212.62 L423.83 212.05 L424.17 211.5 L424.53 210.95 L424.88 210.4 L425.25 209.85 L425.62 209.3 L426 208.75 L426.38 208.21 L426.77 207.68 L427.17 207.14 L427.59 206.6 L428.02 206.06 L428.45 205.53 L428.88 205 L429.32 204.48 L429.75 203.96 L430.17 203.46 L430.59 202.97 L431 202.5 L431.45 201.98 L431.9 201.47 L432.34 200.99 L432.77 200.51 L433.21 200.04 L433.65 199.57 L434.09 199.1 L434.54 198.61 L435 198.1 L435.44 197.62 L435.88 197.12 L436.33 196.62 L436.79 196.1 L437.26 195.59 L437.72 195.07 L438.18 194.54 L438.65 194.02 L439.1 193.51 L439.56 193 L440 192.5 L440.46 191.97 L440.91 191.42 L441.36 190.86 L441.82 190.29 L442.26 189.74 L442.71 189.21 L443.14 188.7 L443.57 188.25 L443.99 187.84 L444.4 187.5 L444.92 187.11 L445.42 186.77 L445.91 186.46 L446.4 186.21 L446.9 186 L447.51 185.79 L448.12 185.6 L448.75 185.45 L449.4 185.4 L450 185.44 L450.61 185.54 L451.24 185.66 L451.87 185.8 L452.5 185.9 L453.12 185.99 L453.74 186.08 L454.36 186.17 L454.98 186.23 L455.6 186.25 L456.24 186.2 L456.89 186.05 L457.53 185.85 L458.15 185.62 L458.75 185.4 L459.27 185.16 L459.77 184.86 L460.26 184.55 L460.75 184.28 L461.25 184.1 L461.85 183.97 L462.46 183.86 L463.09 183.78 L463.75 183.75 L464.33 183.78 L464.95 183.86 L465.58 183.97 L466.23 184.11 L466.87 184.25 L467.5 184.4 L468.13 184.55 L468.77 184.73 L469.4 184.92 L470.02 185.13 L470.64 185.36 L471.25 185.6 L471.86 185.86 L472.47 186.15 L473.07 186.47 L473.66 186.8 L474.22 187.15 L474.75 187.5 L475.29 187.9 L475.8 188.32 L476.29 188.76 L476.77 189.22 L477.25 189.7 L477.68 190.17 L478.11 190.66 L478.52 191.17 L478.94 191.71 L479.35 192.25 L479.75 192.8 L480.12 193.31 L480.48 193.84 L480.84 194.38 L481.2 194.92 L481.55 195.48 L481.9 196.04 L482.25 196.6 L482.57 197.12 L482.89 197.64 L483.2 198.17 L483.51 198.71 L483.83 199.25 L484.14 199.79 L484.44 200.34 L484.75 200.9 L485.07 201.5 L485.4 202.12 L485.72 202.74 L486.05 203.38 L486.36 204 L486.67 204.62 L486.97 205.22 L487.25 205.8 L487.54 206.4 L487.81 206.97 L488.08 207.53 L488.34 208.09 L488.61 208.67 L488.9 209.3 L489.14 209.83 L489.4 210.38 L489.66 210.96 L489.92 211.55 L490.2 212.16 L490.47 212.77 L490.76 213.39 L491.04 214 L491.32 214.61 L491.6 215.2 L491.88 215.79 L492.18 216.38 L492.48 216.97 L492.78 217.56 L493.08 218.14 L493.38 218.73 L493.68 219.31 L493.96 219.88 L494.24 220.45 L494.5 221 L494.77 221.6 L495.02 222.19 L495.27 222.77 L495.5 223.34 L495.74 223.91 L495.98 224.48 L496.23 225.04 L496.5 225.6 L496.79 226.16 L497.09 226.72 L497.4 227.27 L497.71 227.82 L498.04 228.36 L498.36 228.91 L498.68 229.45 L499 230 L499.31 230.54 L499.62 231.09 L499.93 231.64 L500.24 232.19 L500.55 232.73 L500.86 233.27 L501.18 233.79 L501.5 234.3 L501.85 234.83 L502.19 235.36 L502.55 235.88 L502.9 236.38 L503.26 236.87 L503.63 237.35 L504 237.8 L504.4 238.26 L504.81 238.72 L505.23 239.16 L505.65 239.58 L506.08 239.96 L506.5 240.3 L507.05 240.7 L507.6 241.08 L508.15 241.4 L508.7 241.6 L509.34 241.75 L509.97 241.86 L510.6 241.9 L511.21 241.8 L511.81 241.55 L512.4 241.25 L512.89 240.94 L513.38 240.54 L513.85 240.09 L514.3 239.6 L514.7 239.11 L515.09 238.56 L515.46 237.97 L515.83 237.36 L516.2 236.75 L516.52 236.2 L516.84 235.64 L517.15 235.07 L517.47 234.49 L517.78 233.9 L518.1 233.3 L518.4 232.74 L518.7 232.18 L519 231.6 L519.3 231.02 L519.61 230.44 L519.93 229.85 L520.25 229.25 L520.57 228.67 L520.89 228.09 L521.22 227.49 L521.56 226.89 L521.9 226.29 L522.24 225.69 L522.57 225.09 L522.9 224.5 L523.22 223.91 L523.54 223.31 L523.86 222.71 L524.18 222.11 L524.49 221.52 L524.8 220.95 L525.11 220.41 L525.4 219.9 L525.76 219.31 L526.12 218.75 L526.46 218.21 L526.79 217.7 L527.1 217.2 L527.38 216.72 L527.64 216.26 L527.9 215.8 L528.2 215.3 L528.52 214.78 L528.88 214.22 L529.27 213.63 L529.68 213.04 L530.09 212.45 L530.5 211.9 L530.9 211.39 L531.31 210.9 L531.73 210.41 L532.15 209.93 L532.57 209.46 L533 209 L533.41 208.56 L533.82 208.13 L534.24 207.71 L534.65 207.29 L535.07 206.89 L535.5 206.5 L535.99 206.07 L536.49 205.66 L536.99 205.26 L537.5 204.87 L538 204.5 L538.48 204.17 L538.96 203.86 L539.45 203.56 L539.93 203.25 L540.4 202.9 L540.92 202.47 L541.43 202 L541.94 201.5 L542.43 201 L542.9 200.5 L543.31 200.04 L543.7 199.58 L544.08 199.11 L544.45 198.65 L544.8 198.2 L545.17 197.73 L545.51 197.27 L545.85 196.81 L546.2 196.3 L546.55 195.76 L546.9 195.18 L547.25 194.58 L547.62 193.95 L548 193.3 L548.3 192.79 L548.62 192.26 L548.94 191.71 L549.27 191.15 L549.61 190.59 L549.94 190.04 L550.28 189.5 L550.6 189 L550.99 188.42 L551.4 187.83 L551.8 187.25 L552.19 186.71 L552.53 186.26 L552.8 185.9 L553.09 185.54 L553.3 185.3" fill="none" stroke="#0000ff" stroke-width="2.08" stroke-linejoin="round" stroke-linecap="square"/>
<rect x="80.5" y="58.5" width="496" height="369" fill="none" stroke="#000" stroke-width="1" shape-rendering="crispEdges"/>
<line x1="103.5" y1="428" x2="103.5" y2="432.9" stroke="#000" stroke-width="1" shape-rendering="crispEdges"/>
<text class="tk" x="102.8" y="447.6" text-anchor="middle" textLength="20.6" lengthAdjust="spacingAndGlyphs">0.0</text>
<line x1="159.5" y1="428" x2="159.5" y2="432.9" stroke="#000" stroke-width="1" shape-rendering="crispEdges"/>
<text class="tk" x="159.16" y="447.6" text-anchor="middle" textLength="20.6" lengthAdjust="spacingAndGlyphs">0.5</text>
<line x1="215.5" y1="428" x2="215.5" y2="432.9" stroke="#000" stroke-width="1" shape-rendering="crispEdges"/>
<text class="tk" x="215.52" y="447.6" text-anchor="middle" textLength="20.6" lengthAdjust="spacingAndGlyphs">1.0</text>
<line x1="272.5" y1="428" x2="272.5" y2="432.9" stroke="#000" stroke-width="1" shape-rendering="crispEdges"/>
<text class="tk" x="271.89" y="447.6" text-anchor="middle" textLength="20.6" lengthAdjust="spacingAndGlyphs">1.5</text>
<line x1="328.5" y1="428" x2="328.5" y2="432.9" stroke="#000" stroke-width="1" shape-rendering="crispEdges"/>
<text class="tk" x="328.25" y="447.6" text-anchor="middle" textLength="20.6" lengthAdjust="spacingAndGlyphs">2.0</text>
<line x1="384.5" y1="428" x2="384.5" y2="432.9" stroke="#000" stroke-width="1" shape-rendering="crispEdges"/>
<text class="tk" x="384.61" y="447.6" text-anchor="middle" textLength="20.6" lengthAdjust="spacingAndGlyphs">2.5</text>
<line x1="441.5" y1="428" x2="441.5" y2="432.9" stroke="#000" stroke-width="1" shape-rendering="crispEdges"/>
<text class="tk" x="440.98" y="447.6" text-anchor="middle" textLength="20.6" lengthAdjust="spacingAndGlyphs">3.0</text>
<line x1="497.5" y1="428" x2="497.5" y2="432.9" stroke="#000" stroke-width="1" shape-rendering="crispEdges"/>
<text class="tk" x="497.34" y="447.6" text-anchor="middle" textLength="20.6" lengthAdjust="spacingAndGlyphs">3.5</text>
<line x1="554.5" y1="428" x2="554.5" y2="432.9" stroke="#000" stroke-width="1" shape-rendering="crispEdges"/>
<text class="tk" x="553.7" y="447.6" text-anchor="middle" textLength="20.6" lengthAdjust="spacingAndGlyphs">4.0</text>
<line x1="75" y1="82.5" x2="80" y2="82.5" stroke="#000" stroke-width="1" shape-rendering="crispEdges"/>
<text class="tk" x="70.6" y="87" text-anchor="end" textLength="38.5" lengthAdjust="spacingAndGlyphs">98.52</text>
<line x1="75" y1="145.5" x2="80" y2="145.5" stroke="#000" stroke-width="1" shape-rendering="crispEdges"/>
<text class="tk" x="70.6" y="151" text-anchor="end" textLength="38.5" lengthAdjust="spacingAndGlyphs">98.50</text>
<line x1="75" y1="209.5" x2="80" y2="209.5" stroke="#000" stroke-width="1" shape-rendering="crispEdges"/>
<text class="tk" x="69.6" y="214" text-anchor="end" textLength="38.5" lengthAdjust="spacingAndGlyphs">98.48</text>
<line x1="75" y1="272.5" x2="80" y2="272.5" stroke="#000" stroke-width="1" shape-rendering="crispEdges"/>
<text class="tk" x="69.6" y="278" text-anchor="end" textLength="38.5" lengthAdjust="spacingAndGlyphs">98.46</text>
<line x1="75" y1="336.5" x2="80" y2="336.5" stroke="#000" stroke-width="1" shape-rendering="crispEdges"/>
<text class="tk" x="70.6" y="341" text-anchor="end" textLength="38.5" lengthAdjust="spacingAndGlyphs">98.44</text>
<line x1="75" y1="399.5" x2="80" y2="399.5" stroke="#000" stroke-width="1" shape-rendering="crispEdges"/>
<text class="tk" x="70.6" y="404" text-anchor="end" textLength="38.5" lengthAdjust="spacingAndGlyphs">98.42</text>
<text class="ti" x="328.2" y="48.8" text-anchor="middle" textLength="237.9" lengthAdjust="spacingAndGlyphs">Water Depth h at gauge 535</text>
<text class="tk" x="328" y="466.6" text-anchor="middle" textLength="37.3" lengthAdjust="spacingAndGlyphs">hours</text>
</svg></body></html>
